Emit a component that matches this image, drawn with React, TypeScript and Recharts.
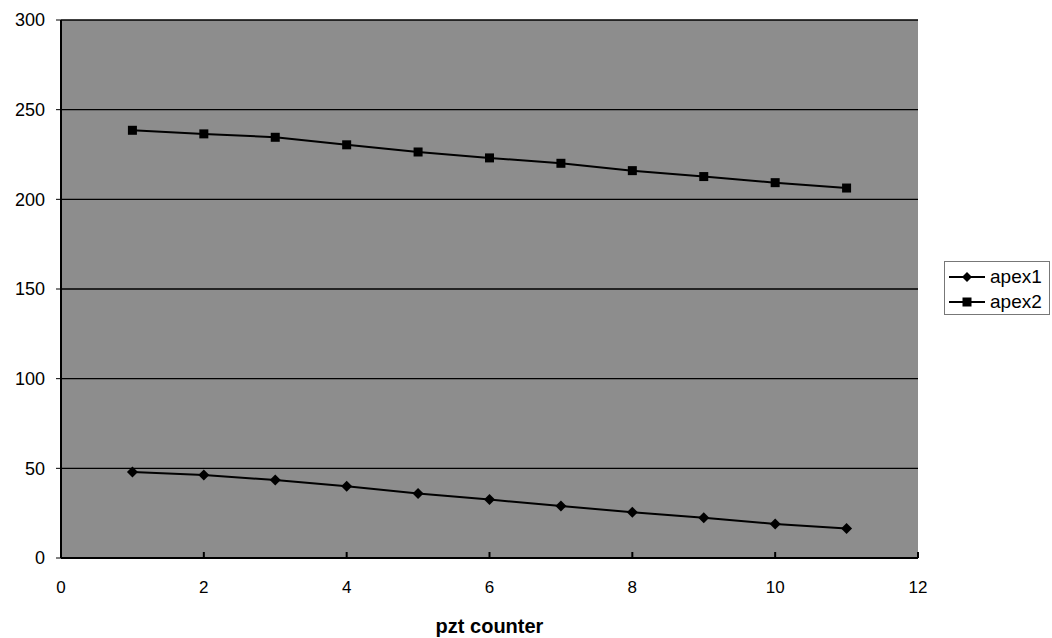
import { CartesianGrid, Line, LineChart, XAxis, YAxis } from "recharts";

const counters = [1, 2, 3, 4, 5, 6, 7, 8, 9, 10, 11];
const apex1 = [48, 46.3, 43.5, 40, 36, 32.6, 29, 25.5, 22.5, 19, 16.4];
const apex2 = [238.5, 236.5, 234.6, 230.4, 226.4, 223.1, 220.1, 216, 212.7, 209.3, 206.3];
const xTicks = [0, 2, 4, 6, 8, 10, 12];
const yTicks = [0, 50, 100, 150, 200, 250, 300];

const data = counters.map((c, i) => ({ x: c, apex1: apex1[i], apex2: apex2[i] }));

const FONT = "'Liberation Sans', Arial, sans-serif";

const Diamond = (props: any) => {
  const { cx, cy } = props;
  if (cx == null || cy == null) return null;
  return <path d={`M${cx},${cy - 5.5}L${cx + 5.5},${cy}L${cx},${cy + 5.5}L${cx - 5.5},${cy}Z`} fill="#000" />;
};

const Square = (props: any) => {
  const { cx, cy } = props;
  if (cx == null || cy == null) return null;
  return <rect x={cx - 4.5} y={cy - 4.5} width={9} height={9} fill="#000" />;
};

// legend drawn outside the chart so it doesn't eat into the plot area
const LegendBox = () => (
  <div
    style={{
      position: "absolute",
      left: 944,
      top: 261,
      border: "1px solid #777",
      background: "#fff",
      width: 106,
      height: 54,
      padding: "2px 0",
      boxSizing: "border-box",
      fontFamily: FONT,
      fontSize: 19,
      color: "#000",
    }}
  >
    {["apex1", "apex2"].map((name) => (
      <div key={name} style={{ display: "flex", alignItems: "center", height: 25 }}>
        <svg width={38} height={14} style={{ marginLeft: 3 }}>
          <line x1={1} y1={7} x2={37} y2={7} stroke="#000" strokeWidth={2} />
          {name === "apex1" ? (
            <path d="M19,2L24,7L19,12L14,7Z" fill="#000" />
          ) : (
            <rect x={14.5} y={2.5} width={9} height={9} fill="#000" />
          )}
        </svg>
        <span style={{ marginLeft: 4 }}>{name}</span>
      </div>
    ))}
  </div>
);

export default function App() {
  return (
    <div style={{ position: "absolute", left: 0, top: 0, width: 1052, height: 638, background: "#fff" }}>
      <LineChart
        width={1052}
        height={638}
        data={data}
        margin={{ top: 20, right: 134, bottom: 0, left: 0 }}
      >
        <CartesianGrid vertical={false} stroke="#000" strokeWidth={1.3} fill="#8d8d8d" fillOpacity={1} />
        <XAxis
          dataKey="x"
          type="number"
          domain={[0, 12]}
          ticks={xTicks}
          height={80}
          axisLine={{ stroke: "#000", strokeWidth: 2 }}
          tickLine={{ stroke: "#000", strokeWidth: 2, transform: "translate(0,-6)" }}
          tickSize={6}
          tickMargin={17}
          tick={{ fill: "#000", fontSize: 17, fontFamily: FONT }}
          label={{
            value: "pzt counter",
            position: "insideBottom",
            offset: 5,
            fill: "#000",
            fontSize: 20,
            fontWeight: "bold",
            fontFamily: FONT,
          }}
        />
        <YAxis
          type="number"
          domain={[0, 300]}
          ticks={yTicks}
          width={61}
          axisLine={{ stroke: "#000", strokeWidth: 2 }}
          tickLine={{ stroke: "#000" }}
          tickSize={5}
          tickMargin={11}
          tick={{ fill: "#000", fontSize: 18, fontFamily: FONT }}
        />
        <Line
          dataKey="apex1"
          name="apex1"
          stroke="#000"
          strokeWidth={2}
          dot={<Diamond />}
          activeDot={false}
          isAnimationActive={false}
        />
        <Line
          dataKey="apex2"
          name="apex2"
          stroke="#000"
          strokeWidth={2}
          dot={<Square />}
          activeDot={false}
          isAnimationActive={false}
        />
      </LineChart>
      <LegendBox />
    </div>
  );
}
